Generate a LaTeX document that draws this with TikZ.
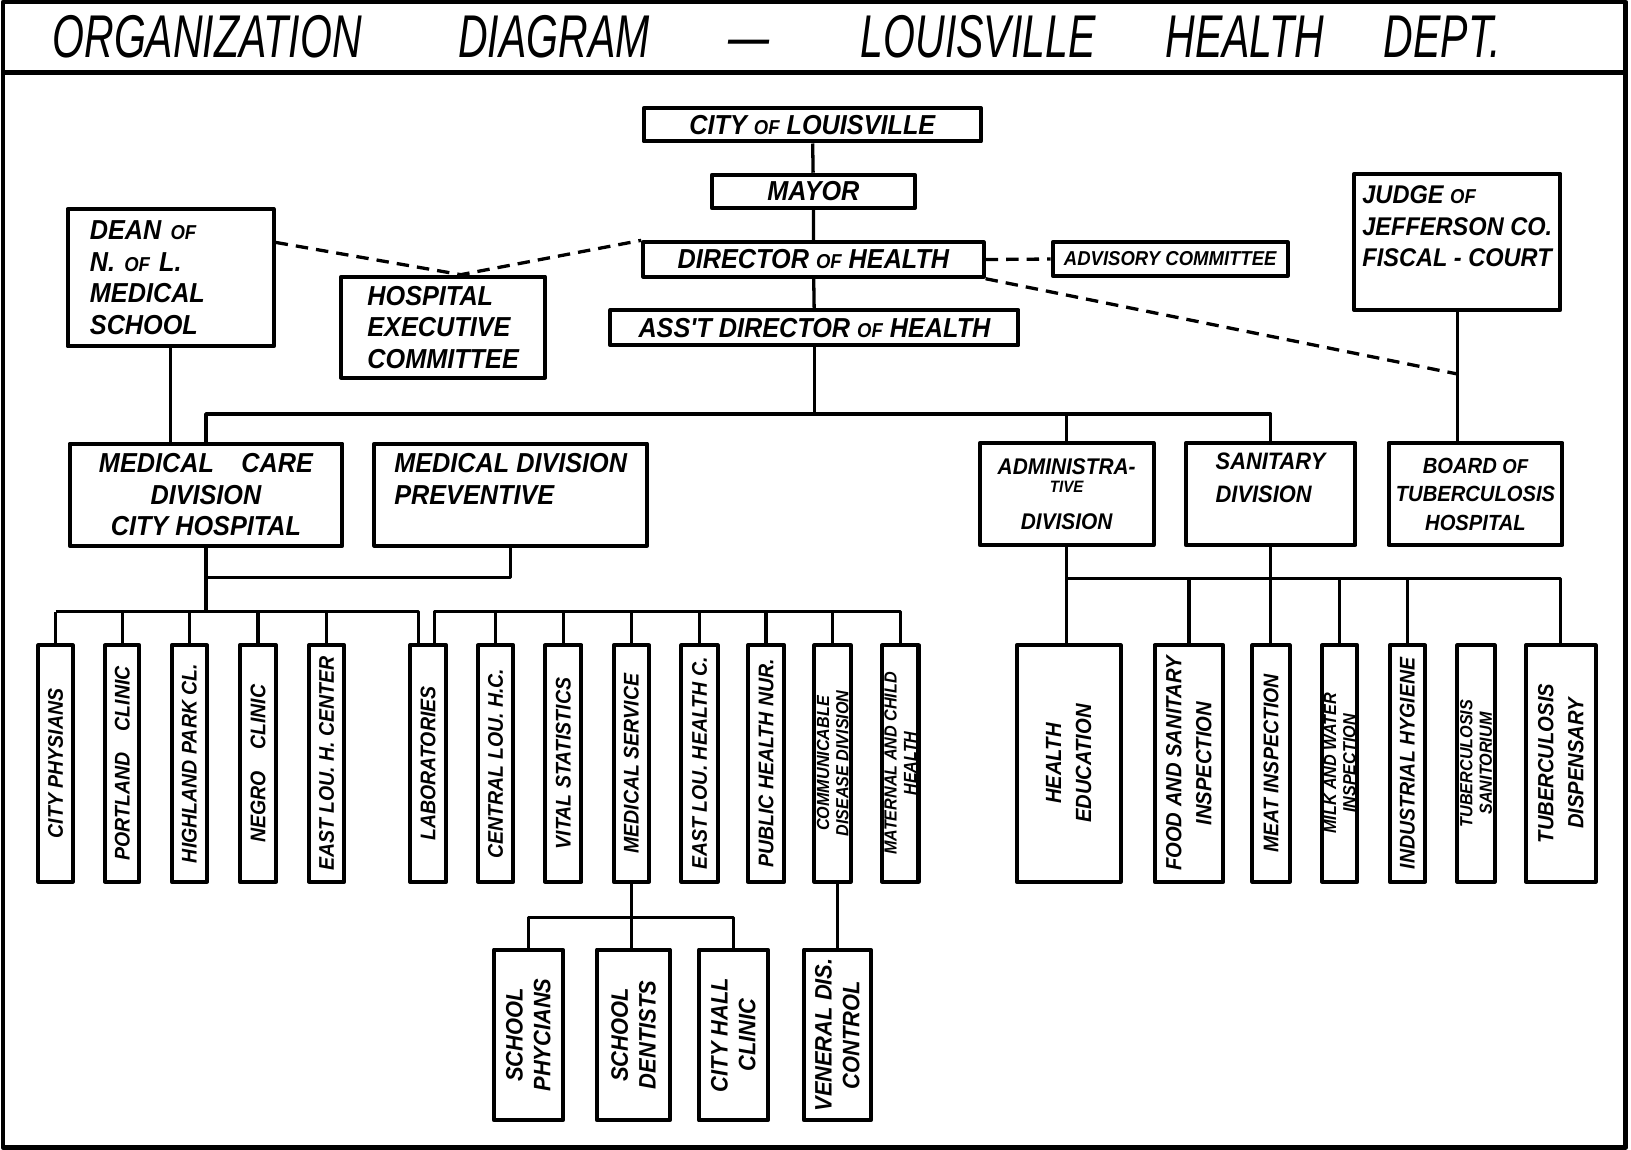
\documentclass[tikz,border=0pt]{standalone}
\usepackage{fontspec}
\newfontfamily\handfont[FakeStretch=.92]{Liberation Sans}
\newfontfamily\titlefont[FakeStretch=.68]{Liberation Sans}
\newcommand\ofsm{{\fontsize{5.5}{6}\selectfont OF}}
\usetikzlibrary{calc}
\tikzset{
	box/.style={draw,line width=1.1pt,inner sep=1pt,align=center,font=\handfont\bfseries\itshape\fontsize{7.5}{8.6}\selectfont},
	vbox/.style={box,rotate=90,minimum width=2.27cm,font=\handfont\bfseries\itshape\fontsize{5.8}{6.5}\selectfont},
	vsmall/.style={vbox,inner sep=.3pt,font=\handfont\bfseries\itshape\fontsize{4.8}{5.3}\selectfont},
	vwide/.style={vbox,font=\handfont\bfseries\itshape\fontsize{6}{8.2}\selectfont},
	vlow/.style={vbox,minimum width=1.64cm,font=\handfont\bfseries\itshape\fontsize{6.5}{7.6}\selectfont},
	ttl/.style={anchor=base west,font=\titlefont\itshape\fontsize{16.5}{17}\selectfont},
	link/.style={line width=.9pt},
	dashlink/.style={line width=.9pt,dash pattern=on 3.4pt off 2.2pt},
}
\begin{document}
\begin{tikzpicture}[x=.01cm,y=-.01cm,line join=round]
	\useasboundingbox (0,0) rectangle (1568,1105);
	\draw[line width=1.3pt] (3,2) rectangle (1563,1103) (3,70) -- (1563,70);
	\foreach \x/\w [count=\i] in {38/ORGANIZATION,428/DIAGRAM,688/—,815/LOUISVILLE,1108/HEALTH,1318/DEPT.}
		\node[ttl] (t\i) at (\x,55) {\w};
	% upper offices
	\node[box,minimum width=3.24cm,minimum height=.32cm] (city) at (781,120) {CITY \ofsm{} LOUISVILLE};
	\node[box,minimum width=1.95cm,minimum height=.32cm] (mayor) at (782,184) {MAYOR};
	\node[box,minimum width=3.27cm,minimum height=.33cm] (dir) at (782,249.5) {DIRECTOR \ofsm{} HEALTH};
	\node[box,minimum width=2.26cm,minimum height=.32cm,font=\handfont\bfseries\itshape\fontsize{5.5}{6}\selectfont] (adv) at (1125,249) {ADVISORY COMMITTEE};
	\node[box,minimum width=3.92cm,minimum height=.34cm] (asst) at (783,315) {ASS'T DIRECTOR \ofsm{} HEALTH};
	\node[box,minimum width=1.98cm,minimum height=1.32cm,align=left,text width=1.55cm] (dean) at (164,267) {DEAN \ofsm\\N. \ofsm{} L.\\MEDICAL\\SCHOOL};
	\node[box,minimum width=1.96cm,minimum height=.97cm,align=left] (hosp) at (426,314.5) {HOSPITAL\\EXECUTIVE\\COMMITTEE};
	\node[box,minimum width=1.98cm,minimum height=1.31cm,align=left,font=\handfont\bfseries\itshape\fontsize{7}{8.6}\selectfont] (judge) at (1401,232.5) {JUDGE \ofsm\\JEFFERSON CO.\\FISCAL - COURT\\\mbox{}};
	% divisions
	\node[box,minimum width=2.62cm,minimum height=.98cm] (mcare) at (198,475.5) {MEDICAL\quad CARE\\DIVISION\\CITY HOSPITAL};
	\node[box,minimum width=2.62cm,minimum height=.98cm,align=left] (prev) at (491,475.5) {MEDICAL DIVISION\\PREVENTIVE\\\mbox{}};
	\node[box,minimum width=1.67cm,minimum height=.98cm,font=\handfont\bfseries\itshape\fontsize{6.2}{7}\selectfont] (adm) at (1025.5,475) {ADMINISTRA-\\[-2pt]{\fontsize{4.5}{5}\selectfont TIVE}\\[3pt]DIVISION};
	\node[box,minimum width=1.63cm,minimum height=.98cm,align=left,font=\handfont\bfseries\itshape\fontsize{6.5}{9}\selectfont] (san) at (1221.5,475) {SANITARY\\DIVISION\\\mbox{}};
	\node[box,minimum width=1.67cm,minimum height=.98cm,font=\handfont\bfseries\itshape\fontsize{6}{7.8}\selectfont] (board) at (1418.5,475) {BOARD \ofsm\\TUBERCULOSIS\\HOSPITAL};
	% sections
	\foreach \n/\x/\w/\t in {cp/53.5/0.33/CITY PHYSIANS,pc/117.5/0.33/PORTLAND\quad CLINIC,hp/182/0.34/HIGHLAND PARK CL.,nc/248/0.35/NEGRO\quad CLINIC,el/314/0.34/EAST LOU. H. CENTER,lab/411.5/0.35/LABORATORIES,clh/476.5/0.34/CENTRAL LOU. H.C.,vs/541.5/0.35/VITAL STATISTICS,ms/607/0.34/MEDICAL SERVICE,elh/672.5/0.35/EAST LOU. HEALTH C.,phn/736.5/0.35/PUBLIC HEALTH NUR.,mi/1222/0.36/MEAT INSPECTION,ih/1353/0.34/INDUSTRIAL HYGIENE}
		\node[vbox,minimum height=\w cm] (\n) at (\x,734) {\t};
	\foreach \n/\x/\w/\t in {cd/800.5/0.35/COMMUNICABLE\\DISEASE DIVISION,mch/865.5/0.35/MATERNAL AND CHILD\\HEALTH,mw/1288/0.34/MILK AND WATER\\INSPECTION,ts/1419/0.36/TUBERCULOSIS\\SANITORIUM}
		\node[vsmall,minimum height=\w cm] (\n) at (\x,734) {\t};
	\foreach \n/\x/\w/\t in {he/1027.5/1.00/HEALTH\\EDUCATION,fsi/1143/0.66/FOOD AND SANITARY\\INSPECTION,td/1500.5/0.67/TUBERCULOSIS\\DISPENSARY}
		\node[vwide,minimum height=\w cm] (\n) at (\x,734) {\t};
	\foreach \n/\x/\w/\t in {sp/508/0.66/SCHOOL\\PHYCIANS,sd/609/0.70/SCHOOL\\DENTISTS,chc/705/0.66/CITY HALL\\CLINIC,vd/805/0.64/VENERAL DIS.\\CONTROL}
		\node[vlow,minimum height=\w cm] (\n) at (\x,995) {\t};
	% lines of authority
	\draw[link] (city) -- (mayor) -- (dir) -- (asst);
	\draw[link] (asst.south) -- ++(0,64) coordinate (bus);
	\draw[link] (mcare.north) |- (bus) -| (san.north);
	\draw[link] (adm.north) -- (adm.north |- bus);
	\draw[link] (dean) -- (dean.south |- mcare.north);
	\draw[link] (judge) -- coordinate[pos=.48] (jd) (judge.south |- board.north);
	\draw[dashlink] (dir.east) -- (adv.west);
	\draw[dashlink] (dir.south east) -- (jd);
	\draw[dashlink] ($(dean.north east)+(0,34)$) -- ($(hosp.north)+(17,0)$) -- (dir.north west);
	\coordinate (lbus) at (198,588);
	\draw[link] (prev.south) |- ($(mcare.south)+(0,29)$);
	\draw[link] (mcare.south) -- (lbus);
	\draw[link] (cp.east |- lbus) -| ($(lab.east)+(-9,0)$);
	\draw[link] ($(lab.east)+(6,0)$) |- (mch.east |- lbus) -- (mch.east);
	\foreach \b in {cp,pc,hp,nc,el,clh,vs,ms,elh,phn,cd}
		\draw[link] (\b.east) -- (\b.east |- lbus);
	\coordinate (bbus) at (607,882);
	\draw[link] (ms.west) -- (ms.west |- sd.east);
	\draw[link] (sp.east) |- (bbus) -| (chc.east);
	\draw[link] (vd.east |- cd.west) -- (vd.east);
	\coordinate (rbus) at (1025,556);
	\draw[link] (adm.south) -- (adm.south |- he.east);
	\draw[link] (adm.south |- rbus) -| (td.east);
	\draw[link] (san.south) -- (san.south |- mi.east);
	\foreach \b in {fsi,mw,ih}
		\draw[link] (\b.east |- rbus) -- (\b.east);
\end{tikzpicture}
\end{document}
